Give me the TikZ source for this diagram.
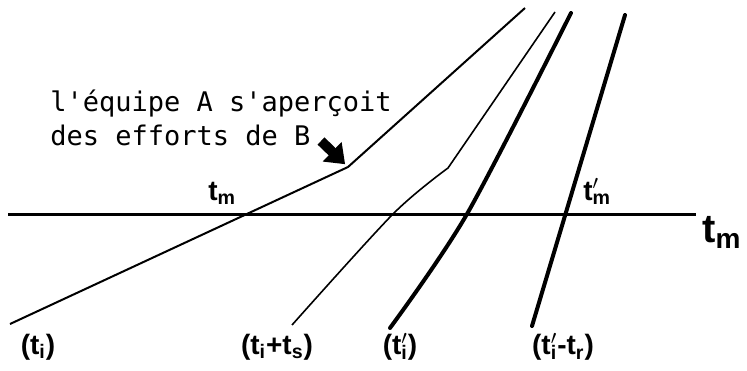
\documentclass[tikz,border=0pt]{standalone}
\usepackage{fontspec}
\setmainfont{Liberation Sans}
\newfontfamily\notefont{DejaVu Sans Mono}
\usetikzlibrary{arrows.meta}

\begin{document}
\begin{tikzpicture}[x=0.5pt, y=0.5pt,
    thinline/.style={line width=0.8pt},
    thickline/.style={line width=2pt, line cap=round},
    lbl/.style={font=\fontsize{14}{16}\selectfont\bfseries, inner sep=0pt},
    notetext/.style={font=\fontsize{13.5}{16}\notefont, anchor=base west, inner sep=0pt}]
    \useasboundingbox (0,0) rectangle (747,370);

    % Time axis
    \coordinate (axl) at (8,156);
    \coordinate (axr) at (696,156);
    \draw[line width=1.5pt] (axl) -- (axr);
    \node[font=\fontsize{20}{22}\selectfont\bfseries, anchor=base west, inner sep=0pt] (tm) at (702,128) {t\textsubscript{m}};

    % Trajectories
    \coordinate (a0) at (10,46);
    \coordinate (a1) at (348,203);
    \coordinate (a2) at (525,362);
    \draw[line width=1pt] (a0) -- (a1) -- (a2);

    \coordinate (b0) at (292,45);
    \coordinate (b1) at (393,156);
    \coordinate (b2) at (448,202);
    \coordinate (b3) at (555,358);
    \draw[thinline] plot[smooth, tension=0.5] coordinates {(b0) (b1) (b2)} -- (b3);

    \coordinate (c0) at (390,42);
    \coordinate (c1) at (467,156);
    \coordinate (c2) at (571,357);
    \draw[thickline] plot[smooth] coordinates {(c0) (c1) (c2)};

    \coordinate (d0) at (532,44);
    \coordinate (d1) at (625,355);
    \draw[thickline] (d0) -- (d1);

    % Crossing labels
    \node[font=\fontsize{14}{16}\selectfont\bfseries, anchor=base west, inner sep=0pt] (tma) at (208,170) {t\textsubscript{m}};
    \node[font=\fontsize{14}{16}\selectfont\bfseries, anchor=base west, inner sep=0pt] (tmb) at (583,170) {t\rlap{$'$}\textsubscript{m}};

    % Start labels
    \node[lbl] (li) at (38,23) {(t\textsubscript{i})};
    \node[lbl] (lis) at (277,23) {(t\textsubscript{i}+t\textsubscript{s})};
    \node[lbl] (lip) at (400,23) {(t\rlap{$'$}\textsubscript{i})};
    \node[lbl] (lir) at (563,23) {(t\rlap{$'$}\textsubscript{i}-t\textsubscript{r})};

    % Note
    \node[notetext] (note1) at (50,258) {l\textquotesingle équipe A s\textquotesingle aperçoit};
    \node[notetext] (note2) at (50,225) {des efforts de B};
    \coordinate (ptail) at (321,229);
    \draw[line width=5pt, -{Triangle[length=9pt,width=13pt]}, shorten >=2pt] (ptail) -- (a1);
\end{tikzpicture}
\end{document}
